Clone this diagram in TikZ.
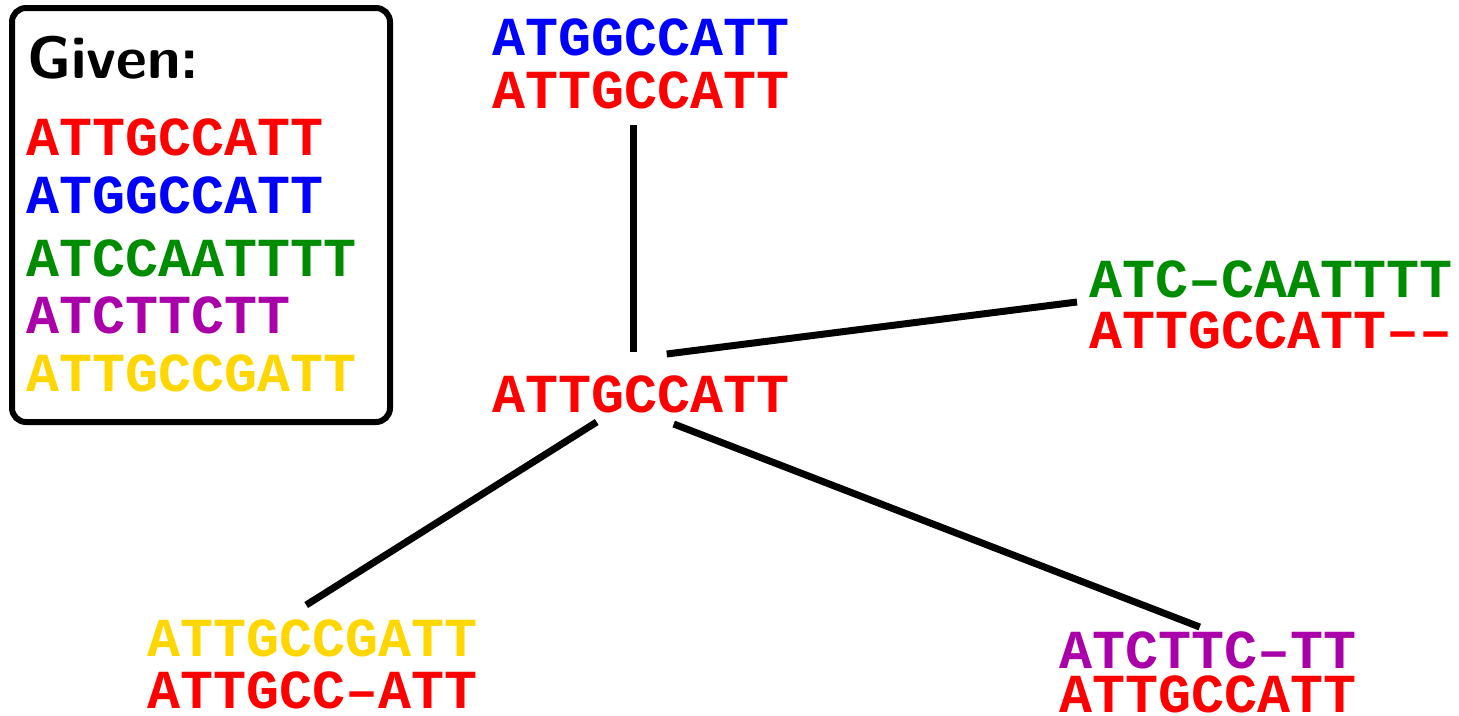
\documentclass[tikz,border=0pt]{standalone}
\usepackage{fontspec}
\setmainfont{Liberation Sans}
\setmonofont{Liberation Mono}
\usetikzlibrary{positioning, calc}
\definecolor{seqred}{RGB}{255,0,0}
\definecolor{seqblue}{RGB}{0,0,255}
\definecolor{seqgreen}{RGB}{0,140,0}
\definecolor{seqpurple}{RGB}{170,0,170}
\definecolor{seqyellow}{RGB}{255,214,0}
\tikzset{
    seq/.style={inner sep=0pt, anchor=base west, font=\fontsize{55}{59}\selectfont\ttfamily\bfseries},
    head/.style={inner sep=0pt, anchor=base west, font=\fontsize{60}{64}\selectfont\sffamily\bfseries},
    givenbox/.style={draw, line width=6pt, rounded corners=14pt, minimum width=378pt, minimum height=414pt, inner sep=0pt},
    branch/.style={line width=7pt},
}
\begin{document}
\begin{tikzpicture}[x=1pt, y=-1pt]
    \useasboundingbox (0, 0) rectangle (1459, 715);

    % given sequences
    \node[givenbox] (box) at (201, 215) {};
    \node[head] (given) at (27, 78) {Given:};
    \node[seq, seqred] (g1) at (26, 155) {ATTGCCATT};
    \node[seq, seqblue] (g2) at (26, 213) {ATGGCCATT};
    \node[seq, seqgreen] (g3) at (26, 276) {ATCCAATTTT};
    \node[seq, seqpurple] (g4) at (26, 333) {ATCTTCTT};
    \node[seq, seqyellow] (g5) at (26, 391) {ATTGCCGATT};

    % tree
    \node[seq, seqred] (root) at (492, 412) {ATTGCCATT};

    \node[seq, seqblue] (topA) at (492, 55) {ATGGCCATT};
    \node[seq, seqred] (topB) at (492, 108) {ATTGCCATT};

    \node[seq, seqgreen] (rightA) at (1089, 297) {ATC–CAATTTT};
    \node[seq, seqred] (rightB) at (1089, 348) {ATTGCCATT––};

    \node[seq, seqyellow] (leftA) at (147, 656) {ATTGCCGATT};
    \node[seq, seqred] (leftB) at (147, 708) {ATTGCC–ATT};

    \node[seq, seqpurple] (lowA) at (1059, 668) {ATCTTC–TT};
    \node[seq, seqred] (lowB) at (1059, 712) {ATTGCCATT};

    \draw[branch] ($(topB.base)+(-7,17)$) -- ($(root.base)+(-7,-60)$);
    \draw[branch] ($(root.base)+(26,-58)$) -- ($(rightA.base west)+(-12,5)$);
    \draw[branch] ($(root.base)+(-44,10)$) -- ($(leftA.base)+(-6,-51)$);
    \draw[branch] ($(root.base)+(33,12)$) -- ($(lowA.base)+(-8,-41)$);
\end{tikzpicture}
\end{document}
